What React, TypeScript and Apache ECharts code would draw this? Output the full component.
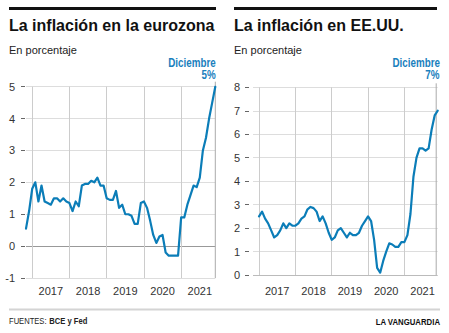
import React, { useEffect, useRef } from "react";
import * as echarts from "echarts";

// Months from Nov 2016 to Dec 2021
const categories: string[] = [];
for (let i = 0; i < 62; i++) {
  const m = (10 + i) % 12;
  const y = 2016 + Math.floor((10 + i) / 12);
  categories.push(`${y}-${String(m + 1).padStart(2, "0")}`);
}

const yearLabels = ["2017", "2018", "2019", "2020", "2021"];

// Eurozone HICP, % (Nov 2016 – Dec 2021)
const euroValues: number[] = [
  0.55, 1.1,
  1.8, 2.0, 1.4, 1.9, 1.4, 1.35, 1.3, 1.5, 1.5, 1.4, 1.5, 1.4,
  1.35, 1.1, 1.4, 1.25, 1.9, 1.95, 1.95, 2.05, 2.0, 2.15, 1.9, 1.9,
  1.5, 1.45, 1.45, 1.73, 1.2, 1.3, 1.0, 1.0, 0.95, 0.7, 0.7, 1.35,
  1.4, 1.2, 0.8, 0.35, 0.1, 0.3, 0.35, -0.2, -0.3, -0.3, -0.3, -0.3,
  0.9, 0.9, 1.3, 1.6, 1.9, 1.85, 2.15, 3.0, 3.4, 4.0, 4.5, 5.0,
];

// US CPI, % (Jan 2017 – Dec 2021)
const usValues: (number | null)[] = [
  null, null,
  2.5, 2.7, 2.4, 2.2, 1.9, 1.6, 1.7, 1.9, 2.2, 2.0, 2.2, 2.1,
  2.1, 2.2, 2.4, 2.5, 2.8, 2.9, 2.85, 2.7, 2.3, 2.5, 2.2, 1.8,
  1.5, 1.6, 1.9, 2.0, 1.8, 1.6, 1.8, 1.7, 1.7, 1.8, 2.1, 2.3,
  2.5, 2.3, 1.5, 0.3, 0.1, 0.6, 1.0, 1.35, 1.3, 1.2, 1.2, 1.4,
  1.4, 1.7, 2.6, 4.2, 5.0, 5.4, 5.4, 5.3, 5.4, 6.2, 6.8, 7.0,
];

const euroRange = { min: -1, max: 5 };
const usRange = { min: 0, max: 8 };

const euroAnnot = ["Diciembre", "5%"];
const usAnnot = ["Diciembre", "7%"];

const FONT = '"Liberation Sans", Arial, sans-serif';
const BLUE = "#0b7db8";
const BLUE_TEXT = "#1a80bd";
const NARROW_SCALE = 0.82;

function xAxisFor(gridIndex: number, margin: number) {
  return {
    type: "category",
    gridIndex,
    data: categories,
    boundaryGap: false,
    axisLine: { show: false },
    axisTick: { show: false },
    axisLabel: {
      interval: (_i: number, v: string) => v.endsWith("-07"),
      formatter: (v: string) => (yearLabels.includes(v.slice(0, 4)) ? v.slice(0, 4) : ""),
      margin,
      color: "#333",
      fontSize: 11,
      fontFamily: FONT,
    },
    splitLine: {
      show: true,
      interval: (_i: number, v: string) => v.endsWith("-01"),
      lineStyle: { color: "#cccccc", width: 1 },
    },
  };
}

function yAxisFor(gridIndex: number, range: { min: number; max: number }, offset: number, margin: number, colors: string[]) {
  return {
    type: "value",
    gridIndex,
    min: range.min,
    max: range.max,
    interval: 1,
    offset,
    axisLine: { show: false },
    axisTick: { show: true, length: 4, lineStyle: { color: "#666", width: 1 } },
    axisLabel: { margin, color: "#333", fontSize: 11, fontFamily: FONT },
    splitLine: { show: true, lineStyle: { color: colors, width: 1 } },
  };
}

function textEl(text: string, x: number, y: number, font: string, fill: string, align = "left", scaleX = 1) {
  return {
    type: "text",
    x,
    y,
    z: 10,
    scaleX,
    style: {
      text,
      font,
      fill,
      align,
      textAlign: align,
      verticalAlign: "middle",
      textVerticalAlign: "middle",
    },
  };
}

export default function App() {
  const ref = useRef<HTMLDivElement>(null);

  useEffect(() => {
    if (!ref.current) return;
    const chart = echarts.init(ref.current, undefined, { renderer: "svg" });
    const L = "#dddddd";
    const option: any = {
      animation: false,
      backgroundColor: "#ffffff",
      textStyle: { fontFamily: FONT },
      grid: [
        { left: 26, top: 86.7, width: 189.3, height: 191.3 },
        { left: 253, top: 87.3, width: 184.7, height: 187.7 },
      ],
      xAxis: [xAxisFor(0, 7.5), xAxisFor(1, 10.5)],
      yAxis: [
        yAxisFor(0, euroRange, 1, 10, [L, "#999999", L, L, L, L, L]),
        yAxisFor(1, usRange, 4, 9, ["#bbbbbb", L, L, L, L, L, L, L, L]),
      ],
      series: [
        {
          type: "line",
          xAxisIndex: 0,
          yAxisIndex: 0,
          data: euroValues,
          showSymbol: false,
          symbol: "none",
          lineStyle: { color: BLUE, width: 2.2, join: "round", cap: "round" },
          z: 3,
        },
        {
          type: "line",
          xAxisIndex: 1,
          yAxisIndex: 1,
          data: usValues,
          showSymbol: false,
          symbol: "none",
          connectNulls: false,
          lineStyle: { color: BLUE, width: 2.2, join: "round", cap: "round" },
          z: 3,
        },
      ],
    };
    chart.setOption(option);

    const eLast = euroValues.length - 1;
    const uLast = usValues.length - 1;
    const eTop = chart.convertToPixel({ gridIndex: 0 } as any, [eLast, euroRange.max]) as number[];
    const eBot = chart.convertToPixel({ gridIndex: 0 } as any, [eLast, euroRange.min]) as number[];
    const uTop = chart.convertToPixel({ gridIndex: 1 } as any, [uLast, usRange.max]) as number[];
    const uBot = chart.convertToPixel({ gridIndex: 1 } as any, [uLast, usRange.min]) as number[];

    const narrowBold12 = `bold 12px ${FONT}`;
    const small = `9.5px ${FONT}`;
    const smallBold = `bold 9.5px ${FONT}`;

    const graphic: any[] = [
      // top black rules
      { type: "rect", shape: { x: 9, y: 7, width: 207, height: 3 }, style: { fill: "#111" } },
      { type: "rect", shape: { x: 234, y: 7, width: 203, height: 3 }, style: { fill: "#111" } },
      // titles
      textEl("La inflación en la eurozona", 9, 25.5, `bold 16px ${FONT}`, "#111"),
      textEl("La inflación en EE.UU.", 234, 25.5, `bold 16px ${FONT}`, "#111"),
      textEl("En porcentaje", 9, 49.7, `11px ${FONT}`, "#222"),
      textEl("En porcentaje", 234, 49.7, `11px ${FONT}`, "#222"),
      // december markers
      {
        type: "line",
        z: 1,
        shape: { x1: eTop[0], y1: eTop[1] - 5, x2: eBot[0], y2: eBot[1] },
        style: { stroke: "#aaaaaa", lineWidth: 1 },
      },
      {
        type: "line",
        z: 1,
        shape: { x1: uTop[0] - 1.5, y1: uTop[1] - 4, x2: uBot[0] - 1.5, y2: uBot[1] },
        style: { stroke: "#aaaaaa", lineWidth: 1 },
      },
      textEl(euroAnnot[0], eTop[0] + 0.5, 62.5, narrowBold12, BLUE_TEXT, "right", NARROW_SCALE),
      textEl(euroAnnot[1], eTop[0] + 0.5, 75, narrowBold12, BLUE_TEXT, "right", NARROW_SCALE),
      textEl(usAnnot[0], uTop[0] + 2.3, 62.5, narrowBold12, BLUE_TEXT, "right", NARROW_SCALE),
      textEl(usAnnot[1], uTop[0] + 1.8, 75, narrowBold12, BLUE_TEXT, "right", NARROW_SCALE),
      // footer
      { type: "rect", shape: { x: 9, y: 308.5, width: 431, height: 2 }, style: { fill: "#d4d4d4" } },
      textEl("FUENTES:", 9, 320.3, small, "#222", "left", 0.8),
      textEl("BCE y Fed", 49.3, 320.3, smallBold, "#222", "left", 0.8),
      textEl("LA VANGUARDIA", 440, 321.7, smallBold, "#111", "right", 0.82),
    ];
    chart.setOption({ graphic });

    return () => chart.dispose();
  }, []);

  return (
    <div
      ref={ref}
      style={{ position: "absolute", left: 0, top: 0, width: 449, height: 333, background: "#fff" }}
    />
  );
}
